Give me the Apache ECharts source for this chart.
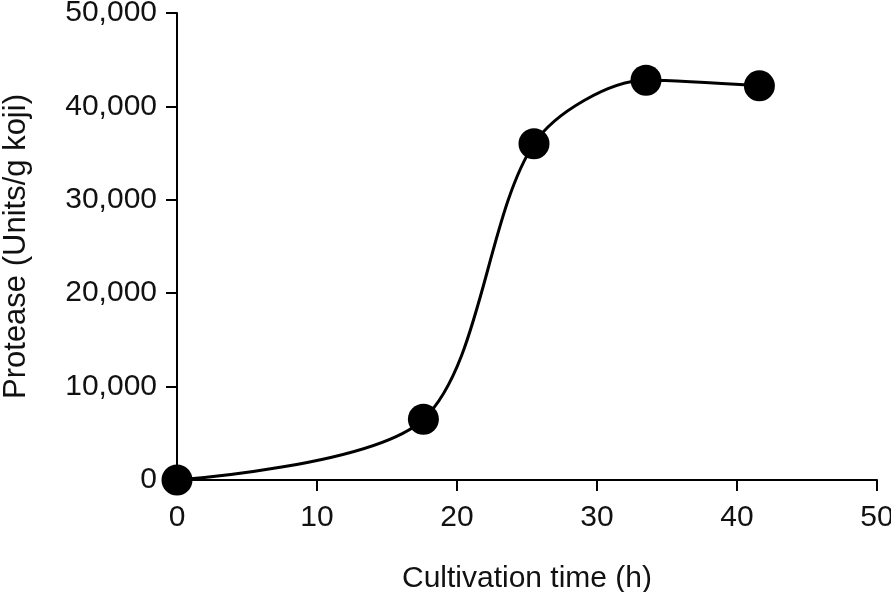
<!DOCTYPE html>
<html>
<head>
<meta charset="utf-8">
<script src="https://cdn.jsdelivr.net/npm/echarts@6/dist/echarts.min.js"></script>
<style>
html,body{margin:0;padding:0;background:#fff;}
#chart{width:891px;height:592px;}
</style>
</head>
<body>
<div id="chart"></div>
<script>
const hours = [0, 17.6, 25.5, 33.5, 41.6];
const protease = [0, 6500, 36000, 42800, 42200];
const xTicks = [0, 10, 20, 30, 40, 50];
const yTicks = [0, 10000, 20000, 30000, 40000, 50000];
const xTitle = 'Cultivation time (h)';
const yTitle = 'Protease (Units/g koji)';

const chart = echarts.init(document.getElementById('chart'), null, {renderer: 'canvas'});
const font = 'Liberation Sans, Arial, Helvetica, sans-serif';
const axisCommon = {
  axisLine: {show: true, lineStyle: {color: '#000', width: 2}},
  axisTick: {show: true, inside: false, length: 11, lineStyle: {color: '#000', width: 2}},
  splitLine: {show: false},
  nameLocation: 'middle'
};
chart.setOption({
  animation: false,
  backgroundColor: '#fff',
  grid: {left: 177, right: 14, top: 13, bottom: 112, containLabel: false, outerBoundsMode: 'none'},
  xAxis: Object.assign({}, axisCommon, {
    type: 'value', min: xTicks[0], max: xTicks[xTicks.length - 1], interval: 10,
    name: xTitle, nameGap: 84,
    nameTextStyle: {color: '#111', fontSize: 30, fontFamily: font},
    axisLabel: {color: '#111', fontSize: 30, fontFamily: font, margin: 23}
  }),
  yAxis: Object.assign({}, axisCommon, {
    type: 'value', min: yTicks[0], max: yTicks[yTicks.length - 1], interval: 10000,
    name: yTitle, nameGap: 145,
    nameTextStyle: {color: '#111', fontSize: 31, fontFamily: font},
    axisLabel: {color: '#111', fontSize: 30, fontFamily: font, margin: 20,
      formatter: v => v.toLocaleString('en-US')}
  }),
  series: [{
    type: 'line',
    data: hours.map((h, i) => [h, protease[i]]),
    smooth: 0.3,
    symbol: 'circle',
    symbolSize: 31,
    lineStyle: {color: '#000', width: 3},
    itemStyle: {color: '#000'},
    z: 3
  }]
});
</script>
</body>
</html>
